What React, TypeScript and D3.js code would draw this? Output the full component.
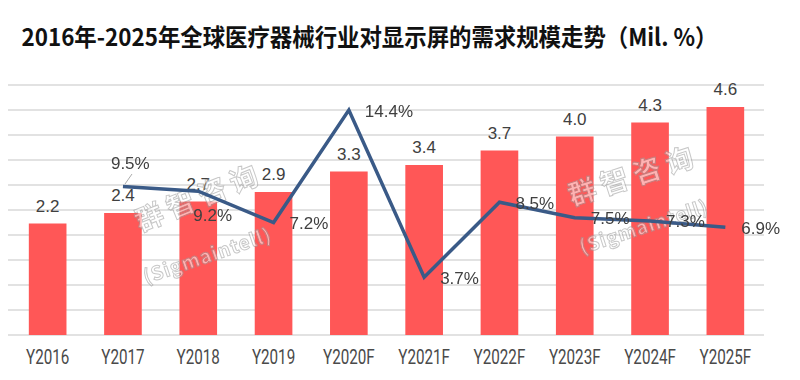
import React from "react";
import * as d3 from "d3";

const categories = ["Y2016", "Y2017", "Y2018", "Y2019", "Y2020F", "Y2021F", "Y2022F", "Y2023F", "Y2024F", "Y2025F"];
const demand = [2.23, 2.44, 2.67, 2.86, 3.27, 3.4, 3.69, 3.97, 4.25, 4.56];
const growthYears = ["Y2017", "Y2018", "Y2019", "Y2020F", "Y2021F", "Y2022F", "Y2023F", "Y2024F", "Y2025F"];
const growth = [9.5, 9.2, 7.2, 14.4, 3.7, 8.5, 7.5, 7.3, 6.9];
const title = "2016年-2025年全球医疗器械行业对显示屏的需求规模走势（Mil. %）";

// label offsets for growth labels (dx, dy of baseline relative to point)
const growthLabelOffset: Record<string, [number, number]> = {
  Y2017: [-12, -18],
  Y2018: [-5, 30],
};

const W = 800;
const H = 380;
const left = 10;
const right = 763;
const top = 85;
const bottom = 335;

export default function App() {
  const x = d3.scaleBand<string>().domain(categories).range([left, right]).paddingInner(0.5).paddingOuter(0.25);
  const y = d3.scaleLinear().domain([0, 5]).range([bottom, top]);
  const y2 = d3.scaleLinear().domain([0, 16]).range([bottom, top]);
  const grid = d3.range(0, 5.01, 0.5);
  const cx = (c: string) => (x(c) as number) + x.bandwidth() / 2;
  const linePts: [number, number][] = growthYears.map((c, i) => [cx(c), y2(growth[i])]);
  const line = d3.line()(linePts) as string;
  const labelFont = "'Liberation Sans', Arial, sans-serif";

  return (
    <svg width={W} height={H} style={{ position: "absolute", left: 0, top: 0, background: "#fff" }}>
      <rect width={W} height={H} fill="#fff" />
      <text x={21.5} y={46} fontFamily="'Noto Sans CJK SC', sans-serif" fontWeight={700} fontSize={24} fill="#111"
        textLength={696} lengthAdjust="spacingAndGlyphs">{title}</text>
      {grid.map((g) => (
        <line key={g} x1={8} x2={764} y1={y(g)} y2={y(g)} stroke="#d9d9d9" strokeWidth={1.5} />
      ))}
      {categories.map((c, i) => (
        <rect key={c} x={x(c)} y={y(demand[i])} width={x.bandwidth()} height={bottom - y(demand[i])} fill="#FF5757" />
      ))}
      {categories.map((c, i) => (
        <text key={"v" + c} x={cx(c)} y={y(demand[i]) - 12} textAnchor="middle" fontFamily={labelFont} fontSize={17} fill="#404040">
          {demand[i].toFixed(1)}
        </text>
      ))}
      {categories.map((c) => (
        <text key={"t" + c} transform={`translate(${cx(c)},364) scale(0.78,1)`} textAnchor="middle"
          fontFamily="Roboto, sans-serif" fontSize={19.5} fill="#4a4a4a">{c}</text>
      ))}
      {/* watermarks */}
      <g opacity={0.55} fill="#fff" stroke="#9a9a9a" strokeWidth={1} fontFamily="'Noto Sans CJK SC', sans-serif" fontWeight={700}>
        <text transform="translate(140,232) rotate(-22)" fontSize={28} letterSpacing={6}>群智咨询</text>
        <text transform="translate(146,284) rotate(-19)" fontSize={19} letterSpacing={1}>(Sigmaintell)</text>
        <text transform="translate(572,206) rotate(-18)" fontSize={28} letterSpacing={6}>群智咨询</text>
        <text transform="translate(582,254) rotate(-18)" fontSize={19} letterSpacing={1}>(Sigmaintell)</text>
      </g>
      <path d={line} fill="none" stroke="#3A5A87" strokeWidth={3.5} strokeLinejoin="miter" />
      <line x1={125} y1={184} x2={132} y2={174} stroke="#aaa" strokeWidth={1} />
      {growthYears.map((c, i) => {
        const off = growthLabelOffset[c];
        const [px, py] = linePts[i];
        const lx = off ? px + off[0] : px + 16;
        const ly = off ? py + off[1] : py + 6.5;
        return (
          <text key={"g" + c} x={lx} y={ly} fontFamily={labelFont} fontSize={17} fill="#404040">
            {growth[i].toFixed(1) + "%"}
          </text>
        );
      })}
    </svg>
  );
}
